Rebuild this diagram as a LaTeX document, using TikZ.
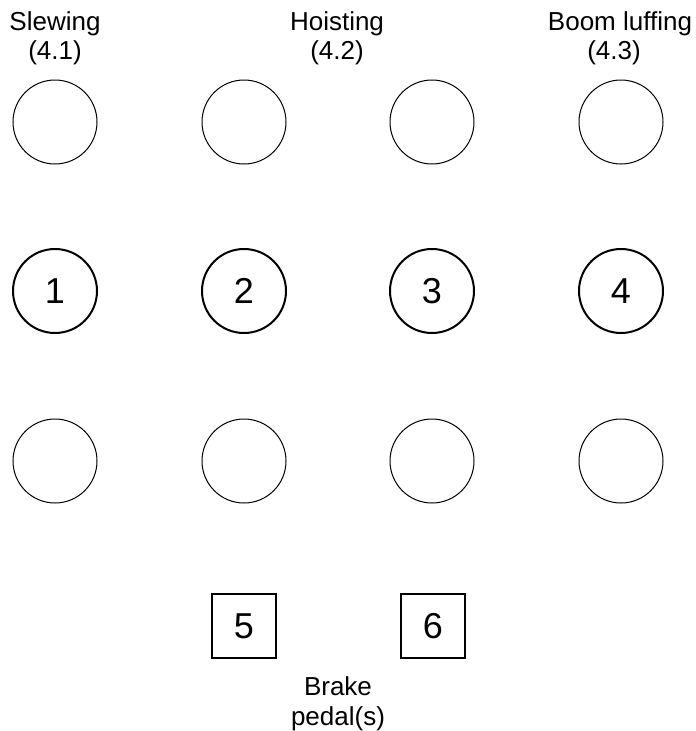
\documentclass[tikz,border=0pt]{standalone}
\usepackage{fontspec}
\setmainfont{Liberation Sans}
\begin{document}
\begin{tikzpicture}[x=1pt,y=-1pt,
  thin circ/.style={draw,circle,minimum size=84pt,inner sep=0pt,line width=1pt},
  key circ/.style={draw,circle,minimum size=84pt,inner sep=0pt,line width=2pt,font=\fontsize{36}{40}\selectfont},
  pedal/.style={draw,rectangle,minimum size=64pt,inner sep=0pt,line width=1.5pt,font=\fontsize{36}{40}\selectfont},
  lbl/.style={anchor=base,inner sep=0pt,font=\fontsize{26}{30}\selectfont}]
\useasboundingbox (0,0) rectangle (696,731);
% labels
\node[lbl] (sl1) at (55,30) {Slewing};
\node[lbl] (sl2) at (55,59) {(4.1)};
\node[lbl] (ho1) at (337,30) {Hoisting};
\node[lbl] (ho2) at (337,59) {(4.2)};
\node[lbl] (bo1) at (620,30) {Boom luffing};
\node[lbl] (bo2) at (614,59) {(4.3)};
% circles
\foreach \i/\x in {1/55,2/244,3/432,4/621}{
  \node[thin circ] (t\i) at (\x,122) {};
  \node[key circ] (m\i) at (\x,291) {\i};
  \node[thin circ] (b\i) at (\x,461) {};
}
% pedals
\node[pedal] (p5) at (244,626) {5};
\node[pedal] (p6) at (433,626) {6};
\node[lbl] (br1) at (338,695) {Brake};
\node[lbl] (br2) at (338,725) {pedal(s)};
\end{tikzpicture}
\end{document}
